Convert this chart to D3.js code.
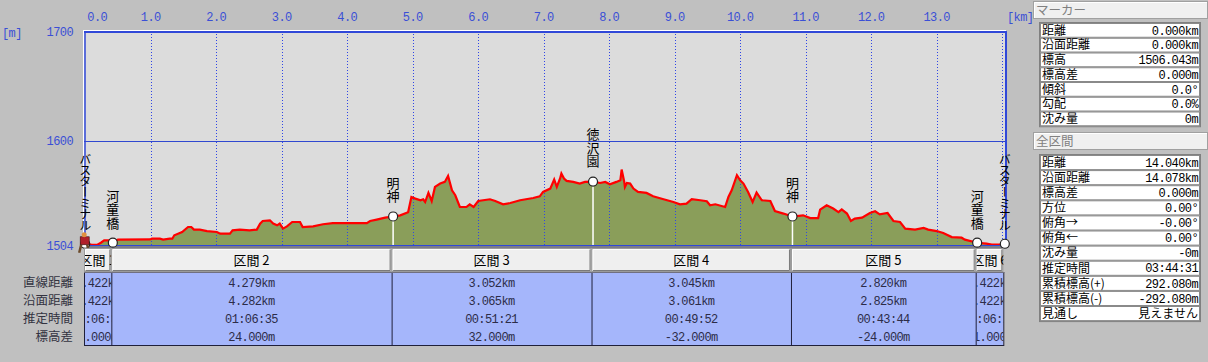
<!DOCTYPE html>
<html><head><meta charset="utf-8">
<script src="https://cdn.jsdelivr.net/npm/d3@7"></script>
<style>
html,body{margin:0;padding:0;background:#c0c0c0;}
svg{display:block;}
</style></head>
<body>
<svg id="c" width="1208" height="362"></svg>
<script>
// ---------- data ----------
const distKm = [0.000,0.104,0.18,0.24,0.29,0.38,0.422,0.50,0.99,1.02,1.14,1.19,1.29,1.33,1.36,1.48,1.57,1.62,1.66,1.75,1.86,2.01,2.06,2.21,2.25,2.36,2.51,2.62,2.67,2.71,2.82,2.87,2.93,2.97,3.02,3.08,3.16,3.28,3.32,3.48,3.63,3.78,4.30,4.35,4.45,4.58,4.701,4.81,4.93,4.98,5.04,5.12,5.16,5.19,5.24,5.29,5.34,5.42,5.49,5.54,5.60,5.65,5.72,5.82,5.87,5.93,6.00,6.18,6.26,6.38,6.49,6.64,6.84,6.94,6.99,7.10,7.16,7.20,7.25,7.27,7.31,7.35,7.45,7.55,7.63,7.753,7.86,7.94,8.01,8.11,8.17,8.19,8.23,8.24,8.27,8.32,8.37,8.44,8.57,8.67,8.83,8.98,9.08,9.18,9.26,9.39,9.49,9.54,9.62,9.77,9.82,9.87,9.95,10.00,10.05,10.12,10.19,10.25,10.33,10.46,10.53,10.66,10.798,10.96,11.07,11.19,11.22,11.32,11.42,11.50,11.55,11.63,11.69,11.75,11.86,11.98,12.06,12.13,12.25,12.34,12.44,12.52,12.67,12.80,12.87,13.00,13.10,13.23,13.38,13.43,13.618,13.76,13.84,14.00,14.04];
const elevM = [1506.0,1505.0,1505.0,1507.0,1509.2,1509.2,1507.0,1509.8,1510.0,1510.7,1510.7,1509.8,1510.7,1510.7,1513.8,1516.8,1521.4,1521.4,1519.0,1519.0,1517.7,1516.8,1515.3,1515.3,1518.3,1519.0,1518.3,1519.0,1524.5,1526.9,1527.5,1524.5,1522.9,1524.5,1519.9,1522.0,1526.0,1526.0,1521.4,1522.0,1523.9,1525.0,1525.0,1526.9,1528.2,1530.0,1531.0,1532.1,1535.0,1548.9,1547.4,1545.9,1546.8,1544.3,1552.6,1545.2,1558.1,1561.2,1562.7,1568.2,1555.0,1550.5,1539.7,1539.7,1542.2,1539.7,1545.2,1546.8,1545.2,1542.2,1543.4,1545.9,1548.0,1549.5,1553.5,1556.6,1564.9,1558.1,1565.8,1570.4,1565.8,1563.6,1562.7,1561.2,1562.7,1563.0,1561.7,1562.7,1560.6,1562.7,1564.2,1574.0,1562.7,1558.1,1561.7,1561.2,1556.6,1553.5,1552.6,1549.5,1546.8,1544.3,1542.2,1542.8,1546.8,1545.9,1545.0,1541.3,1542.2,1539.7,1548.9,1555.0,1568.8,1564.2,1561.2,1553.5,1544.3,1552.9,1545.9,1545.2,1536.0,1533.7,1531.0,1532.1,1529.6,1529.6,1537.3,1541.3,1538.3,1535.1,1537.6,1533.7,1526.9,1529.1,1530.0,1534.2,1535.8,1533.0,1534.2,1526.9,1526.0,1519.9,1519.0,1520.5,1519.0,1517.7,1515.9,1512.2,1511.6,1509.8,1507.0,1506.1,1505.2,1505.2,1506.04];

const xTicks = [0,1,2,3,4,5,6,7,8,9,10,11,12,13];
const xTickLabels = ["0.0","1.0","2.0","3.0","4.0","5.0","6.0","7.0","8.0","9.0","10.0","11.0","12.0","13.0"];
const yTicks = [1504,1600,1700];
const yTickLabels = ["1504","1600","1700"];

const markerKm = [0,0.422,4.701,7.753,10.798,13.618,14.040];
const markerElev = [1506.04,1507.04,1531.04,1563.04,1531.04,1507.04,1506.04];
const markerNames = ["バスターミナル","河童橋","明神","徳沢園","明神","河童橋","バスターミナル"];

const sectionNames = ["区間 1","区間 2","区間 3","区間 4","区間 5","区間 6"];
const rowLabels = ["直線距離","沿面距離","推定時間","標高差"];
const straightDist = ["0.422km","4.279km","3.052km","3.045km","2.820km","0.422km"];
const surfaceDist = ["0.422km","4.282km","3.065km","3.061km","2.825km","0.422km"];
const estTime = ["00:06:34","01:06:35","00:51:21","00:49:52","00:43:44","00:06:25"];
const elevDiff = ["1.000m","24.000m","32.000m","-32.000m","-24.000m","-1.000m"];

const markerPanelLabels = ["距離","沿面距離","標高","標高差","傾斜","勾配","沈み量"];
const markerPanelValues = ["0.000km","0.000km","1506.043m","0.000m","0.0°","0.0%","0m"];
const totalPanelLabels = ["距離","沿面距離","標高差","方位","俯角→","俯角←","沈み量","推定時間","累積標高(+)","累積標高(-)","見通し"];
const totalPanelValues = ["14.040km","14.078km","0.000m","0.00°","-0.00°","0.00°","-0m","03:44:31","292.080m","-292.080m","見えません"];

// ---------- drawing ----------
const svg = d3.select("#c");
const MONO = "'Liberation Mono', 'Noto Sans CJK JP', monospace";
const JP = "'Noto Sans CJK JP', sans-serif";
const BLUE = "#3a4fd6";
const MFS = 12, MLS = -0.6;

const x = d3.scaleLinear().domain([0,14]).range([85.2, 85.2+14*65.5]);
const y = d3.scaleLinear().domain([1504,1700]).range([246,32]);

svg.append("rect").attr("width",1208).attr("height",362).attr("fill","#c0c0c0");

// plot background
const L = 84, R = 1006, T = 31, B = 246;
svg.append("rect").attr("x",L).attr("y",T).attr("width",R-L).attr("height",B-T).attr("fill","#dcdcdc");
svg.append("line").attr("x1",L-1).attr("x2",R).attr("y1",T-0.5).attr("y2",T-0.5).attr("stroke","#ffffff");
svg.append("line").attr("x1",L-0.5).attr("x2",L-0.5).attr("y1",T-1).attr("y2",B).attr("stroke","#ffffff");

// area
const pts = distKm.map((d,i)=>[d,elevM[i]]);
svg.append("path").datum(pts)
  .attr("d", d3.area().x(d=>x(d[0])).y0(y(1504)).y1(d=>y(d[1])))
  .attr("fill","#8a9e5a");

// vertical grid
svg.append("g").selectAll("line").data(d3.range(1,15)).join("line")
  .attr("x1",d=>Math.round(x(d))+0.5).attr("x2",d=>Math.round(x(d))+0.5)
  .attr("y1",T).attr("y2",B)
  .attr("stroke","#2f45e6").attr("stroke-dasharray","1,2");
// horizontal grid at 1600
svg.append("line").attr("x1",L).attr("x2",R).attr("y1",Math.round(y(1600))+0.5).attr("y2",Math.round(y(1600))+0.5)
  .attr("stroke","#3048d0");

// profile line
svg.append("path").datum(pts)
  .attr("d", d3.line().x(d=>x(d[0])).y(d=>y(d[1])))
  .attr("fill","none").attr("stroke","#ff0000").attr("stroke-width",2.2).attr("stroke-linejoin","miter");

// frame
svg.append("line").attr("x1",L).attr("x2",R+1).attr("y1",T+1).attr("y2",T+1).attr("stroke","#3048d8").attr("stroke-width",2);
svg.append("line").attr("x1",L+1).attr("x2",L+1).attr("y1",T).attr("y2",B).attr("stroke","#3048d8").attr("stroke-width",1.5);
svg.append("line").attr("x1",R).attr("x2",R).attr("y1",T).attr("y2",B+1).attr("stroke","#3048d8").attr("stroke-width",2);
svg.append("line").attr("x1",L).attr("x2",R+1).attr("y1",B-0.5).attr("y2",B-0.5).attr("stroke","#3048d8");
svg.append("line").attr("x1",L).attr("x2",R+1).attr("y1",B+1).attr("y2",B+1).attr("stroke","#666677").attr("stroke-width",1.5);

// x axis labels (top)
svg.append("g").selectAll("text").data(xTicks).join("text")
  .attr("x",(d,i)=> i===0 ? x(d)+12 : x(d)).attr("y",21)
  .attr("text-anchor","middle").attr("font-family",MONO).attr("font-size",MFS).attr("letter-spacing",MLS)
  .attr("fill",BLUE).text((d,i)=>xTickLabels[i]);
svg.append("text").attr("x",1007).attr("y",21).attr("font-family",MONO).attr("font-size",MFS).attr("letter-spacing",MLS).attr("fill",BLUE).text("[km]");
// y axis labels
svg.append("g").selectAll("text").data(yTicks).join("text")
  .attr("x",73).attr("y",d=>y(d)+4).attr("text-anchor","end")
  .attr("font-family",MONO).attr("font-size",MFS).attr("letter-spacing",MLS).attr("fill",BLUE)
  .text((d,i)=>yTickLabels[i]);
svg.append("text").attr("x",2).attr("y",37).attr("font-family",MONO).attr("font-size",MFS).attr("letter-spacing",MLS).attr("fill",BLUE).text("[m]");

// markers: stems
svg.append("g").selectAll("line").data(markerKm).join("line")
  .attr("x1",d=>x(d)).attr("x2",d=>x(d))
  .attr("y1",(d,i)=>y(markerElev[i])).attr("y2",B-1)
  .attr("stroke","#ffffff").attr("stroke-width",1.5);
// marker labels (vertical)
svg.append("g").selectAll("text").data(markerKm).join("text")
  .attr("x",d=>x(d)).attr("y",(d,i)=>y(markerElev[i])-13)
  .attr("writing-mode","vertical-rl").attr("text-anchor","end")
  .attr("font-family",JP)
  .attr("font-size",(d,i)=> markerNames[i].length>4 ? 12 : 13)
  .attr("letter-spacing",(d,i)=> markerNames[i].length>4 ? -1 : 0.5)
  .attr("fill","#000").text((d,i)=>markerNames[i]);
// marker dots
svg.append("g").selectAll("circle").data(markerKm).join("circle")
  .attr("cx",d=>x(d)).attr("cy",(d,i)=>y(markerElev[i]))
  .attr("r",4.5).attr("fill","#fff").attr("stroke","#222").attr("stroke-width",1.2);

// hiker icon at start
const hk = svg.append("g").attr("transform",`translate(${x(0)},${y(markerElev[0])})`);
hk.append("rect").attr("x",-5).attr("y",-7).attr("width",9).attr("height",8).attr("fill","#b0202a").attr("stroke","#3a1010").attr("stroke-width",0.6);
hk.append("circle").attr("cx",-1).attr("cy",-9).attr("r",2.5).attr("fill","#e09040");
hk.append("path").attr("d","M-4,1 L-6,9 M2,1 L4,9").attr("stroke","#6b4a2a").attr("stroke-width",2.5);

// ---------- section table ----------
const cum = [0]; straightDist.forEach(s=>cum.push(cum[cum.length-1]+parseFloat(s)));
const bounds = cum.map((c,i)=> i===0 ? L : x(c)-1.5);
const HT = 248, HB = 272, TB = 345;
const rowY = [282, 300, 318, 336];
const rowData = [straightDist, surfaceDist, estTime, elevDiff];

svg.append("rect").attr("x",L).attr("y",HB).attr("width",bounds[6]-L).attr("height",TB-HB).attr("fill","#a5b6fb");

const defs = svg.append("defs");
sectionNames.forEach((s,i)=>{
  defs.append("clipPath").attr("id","cp"+i).append("rect")
    .attr("x",bounds[i]+1).attr("y",HT).attr("width",bounds[i+1]-bounds[i]-1).attr("height",TB-HT);
});
const cols = svg.append("g").selectAll("g").data(sectionNames).join("g");
cols.each(function(s,i){
  const g = d3.select(this);
  const x0 = bounds[i], x1 = bounds[i+1], cx=(x0+x1)/2;
  // header cell
  g.append("rect").attr("x",x0+0.5).attr("y",HT+0.5).attr("width",x1-x0-1).attr("height",HB-HT-1)
    .attr("fill","#efefef").attr("stroke","#9a9a9a");
  g.append("path").attr("d",`M${x0+1.5},${HB-1.5} L${x0+1.5},${HT+1.5} L${x1-1.5},${HT+1.5}`).attr("stroke","#ffffff").attr("fill","none");
  g.append("path").attr("d",`M${x0+1.5},${HB-1.5} L${x1-1.5},${HB-1.5} L${x1-1.5},${HT+1.5}`).attr("stroke","#7a7a7a").attr("fill","none");
  const ct = g.append("g").attr("clip-path",`url(#cp${i})`);
  ct.append("text").attr("x",cx).attr("y",HT+17).attr("text-anchor","middle")
    .attr("font-family",JP).attr("font-size",13).attr("fill","#000").text(s);
  rowData.forEach((arr,r)=>{
    ct.append("text").attr("x",cx).attr("y",rowY[r]+4.5).attr("text-anchor","middle")
      .attr("font-family",MONO).attr("font-size",MFS).attr("letter-spacing",MLS).attr("fill","#2c2c48").text(arr[i]);
  });
  // column separator
  g.append("line").attr("x1",x1+0.5).attr("x2",x1+0.5).attr("y1",HB).attr("y2",TB).attr("stroke","#20203a");
});
svg.append("line").attr("x1",L+0.5).attr("x2",L+0.5).attr("y1",HB).attr("y2",TB).attr("stroke","#20203a");
svg.append("line").attr("x1",L).attr("x2",bounds[6]+1).attr("y1",TB+0.5).attr("y2",TB+0.5).attr("stroke","#20203a");
svg.append("line").attr("x1",L).attr("x2",bounds[6]+1).attr("y1",HB+0.5).attr("y2",HB+0.5).attr("stroke","#707080");

svg.append("g").selectAll("text").data(rowLabels).join("text")
  .attr("x",73).attr("y",(d,i)=>rowY[i]+5).attr("text-anchor","end")
  .attr("font-family",JP).attr("font-size",12.5).attr("fill","#333340").text(d=>d);

// ---------- right panel ----------
function panelHeader(y0, label){
  svg.append("rect").attr("x",1033.5).attr("y",y0+0.5).attr("width",174).attr("height",17).attr("fill","#f0f0f0").attr("stroke","#a0a0a0");
  svg.append("path").attr("d",`M1034.5,${y0+17} L1034.5,${y0+1.5} L1207,${y0+1.5}`).attr("stroke","#fff").attr("fill","none");
  svg.append("text").attr("x",1036).attr("y",y0+13.5).attr("font-family",JP).attr("font-size",12.5).attr("fill","#808080").text(label);
}
function panelTable(y0, rh, labels, values){
  const g = svg.append("g");
  labels.forEach((lab,i)=>{
    const yy = y0 + i*rh;
    g.append("rect").attr("x",1040.5).attr("y",yy+0.5).attr("width",159).attr("height",rh-1)
      .attr("fill","#ffffff").attr("stroke","#8a8a8a");
    g.append("text").attr("x",1042).attr("y",yy+rh/2+4.3).attr("font-family",JP).attr("font-size",12).attr("fill","#000").text(lab);
    const v = values[i];
    const isJp = /[^\x00-\x7F°]/.test(v);
    g.append("text").attr("x",1198).attr("y",yy+rh/2+(isJp?4.3:4.2)).attr("text-anchor","end")
      .attr("font-family",isJp?JP:MONO).attr("font-size",isJp?12:MFS).attr("letter-spacing",isJp?0:MLS).attr("fill","#000").text(v);
  });
  g.append("rect").attr("x",1039.5).attr("y",y0-0.5).attr("width",161).attr("height",labels.length*rh+1).attr("fill","none").attr("stroke","#808080");
}
panelHeader(1, "マーカー");
panelTable(23, 14.75, markerPanelLabels, markerPanelValues);
panelHeader(132, "全区間");
panelTable(155, 15.1, totalPanelLabels, totalPanelValues);
</script>
</body></html>
